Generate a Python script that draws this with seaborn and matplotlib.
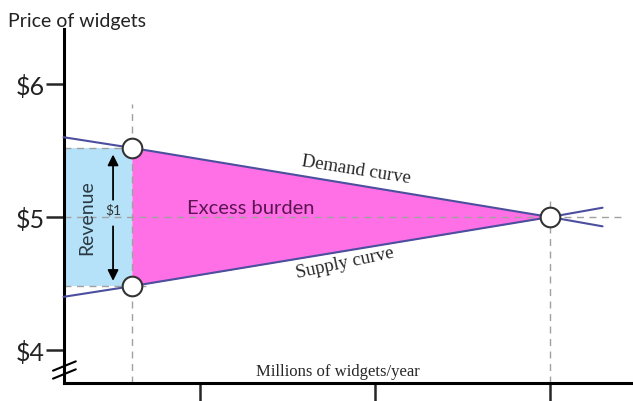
import numpy as np
import pandas as pd
import matplotlib.pyplot as plt
import seaborn as sns

sns.set_style('white')
plt.rcParams['font.family'] = ['Lato', 'DejaVu Sans']

# dados
quantity = [0.22, 0.61, 3.0, 3.3]
demand = [5.60, 5.52, 5.00, 4.93]
supply = [4.40, 4.48, 5.00, 5.07]
q_tax = 0.61
q_eq = 3.0
p_eq = 5.0
p_buyer = 5.52
p_seller = 4.48
y_ticks = [4, 5, 6]
y_labels = ['$4', '$5', '$6']
x_ticks = [1, 2, 3]

line_col = '#4b4f9e'
blue = '#b5e2f8'
pink = '#ff6fe6'
dash_col = '#a0a0a0'

df = pd.DataFrame({'q': quantity, 'Demand': demand, 'Supply': supply})

fig = plt.figure(figsize=(6.33, 4.02), dpi=100)
ax = fig.add_axes([0, 0, 1, 1])
ax.set_xlim(-0.143, 3.474)
ax.set_ylim(3.617, 6.639)

# areas
ax.fill_between([quantity[0], q_tax], p_seller, p_buyer, color=blue, lw=0, zorder=1)
ax.fill_between(quantity[1:3], supply[1:3], demand[1:3], color=pink, lw=0, zorder=1)

# linhas tracejadas
dash = dict(color=dash_col, lw=1, ls=(0, (5, 4)), zorder=2)
ax.plot([quantity[0], 3.43], [p_eq, p_eq], **dash)
ax.plot([quantity[0], q_tax], [p_buyer, p_buyer], **dash)
ax.plot([quantity[0], 0.72], [p_seller, p_seller], **dash)
ax.plot([q_tax, q_tax], [3.752, 5.85], **dash)
ax.plot([q_eq, q_eq], [3.752, 5.14], **dash)

# curvas
sns.lineplot(data=df, x='q', y='Demand', color=line_col, lw=1.5, ax=ax, zorder=3)
sns.lineplot(data=df, x='q', y='Supply', color=line_col, lw=1.5, ax=ax, zorder=3)

# pontos
pts = pd.DataFrame({'q': [q_tax, q_tax, q_eq], 'p': [p_buyer, p_seller, p_eq]})
sns.scatterplot(data=pts, x='q', y='p', s=200, color='white', edgecolor='#333333',
                linewidth=1.5, ax=ax, zorder=5)

# seta de $1
arrow = dict(arrowstyle='-|>', color='black', lw=1.3, mutation_scale=16, shrinkA=0, shrinkB=0)
ax.annotate('', xy=(0.503, 5.47), xytext=(0.503, 5.13), arrowprops=arrow, zorder=4)
ax.annotate('', xy=(0.503, 4.52), xytext=(0.503, 4.93), arrowprops=arrow, zorder=4)
ax.text(0.503, 5.055, '$1', ha='center', va='center', fontsize=10, color='#333333')

# textos
ax.text(0.354, 5.0, 'Revenue', rotation=90, ha='center', va='center', fontsize=14, color='#2b3a44')
ax.text(1.29, 5.075, 'Excess burden', ha='center', va='center', fontsize=14.5, color='#5b1552')
ax.text(1.89, 5.36, 'Demand curve', rotation=-9, ha='center', va='center', fontsize=13.5,
        family='Liberation Serif')
ax.text(1.83, 4.66, 'Supply curve', rotation=12, ha='center', va='center', fontsize=13.5,
        family='Liberation Serif')
ax.text(1.79, 3.84, 'Millions of widgets/year', ha='center', va='center', fontsize=12,
        family='Liberation Serif')
ax.text(-0.097, 6.48, 'Price of widgets', ha='left', va='center', fontsize=14, color='#222222')

# eixos
ax.set_xlabel('')
ax.set_ylabel('')
for s in ['top', 'right']:
    ax.spines[s].set_visible(False)
ax.spines['left'].set_position(('data', 0.223))
ax.spines['left'].set_bounds(3.752, 6.414)
ax.spines['bottom'].set_position(('data', 3.752))
ax.spines['bottom'].set_bounds(0.223, 3.474)
for s in ['left', 'bottom']:
    ax.spines[s].set_linewidth(2.2)
    ax.spines[s].set_color('black')
ax.set_yticks(y_ticks)
ax.set_yticklabels(y_labels, fontsize=18, color='#222222')
ax.set_xticks(x_ticks)
ax.set_xticklabels([])
ax.tick_params(axis='y', direction='out', length=13, width=1.8, pad=1, left=True)
ax.tick_params(axis='x', direction='out', length=14, width=1.8, bottom=True)

# marca de quebra do eixo
for y0 in [3.88, 3.82]:
    ax.plot([0.16, 0.29], [y0 - 0.035, y0 + 0.035], color='black', lw=1.5, clip_on=False, zorder=6)

fig.savefig('out.png', dpi=100)
